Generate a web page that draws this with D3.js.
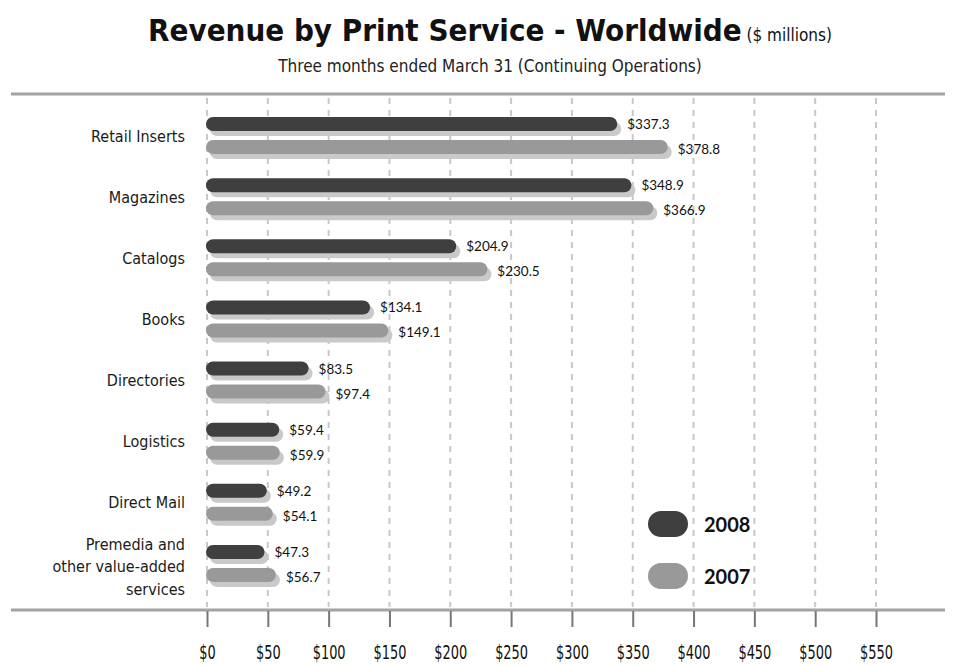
<!DOCTYPE html>
<html>
<head>
<meta charset="utf-8">
<title>Revenue by Print Service - Worldwide</title>
<script src="https://cdn.jsdelivr.net/npm/d3@7"></script>
<style>
  * { margin: 0; padding: 0; }
  body { background: #fff; width: 956px; height: 666px; overflow: hidden; }
  svg text { font-family: "Liberation Sans Narrow", "DejaVu Sans Condensed", "Noto Sans", sans-serif; }
  .num { font-family: Lato, "Open Sans", sans-serif; }
</style>
</head>
<body>
<div id="chart"></div>
<script>
// data
var categories = ["Retail Inserts", "Magazines", "Catalogs", "Books", "Directories",
                  "Logistics", "Direct Mail", "Premedia and\nother value-added\nservices"];
var years = ["2008", "2007"];
var rev2008 = [337.3, 348.9, 204.9, 134.1, 83.5, 59.4, 49.2, 47.3];
var rev2007 = [378.8, 366.9, 230.5, 149.1, 97.4, 59.9, 54.1, 56.7];
var tickValues = [0, 50, 100, 150, 200, 250, 300, 350, 400, 450, 500, 550];

var width = 956, height = 666;
var colors = { "2008": "#3f3f3f", "2007": "#999999" };
var shadow = "#c9c9c9";

var svg = d3.select("#chart").append("svg")
    .attr("width", width)
    .attr("height", height);

// scales
var x = d3.scaleLinear().domain([0, 550]).range([207, 876]);
var y = d3.scaleBand().domain(categories).range([105, 594]);
var sub = d3.scalePoint().domain(years).range([-11.5, 11.5]);

// title
var title = svg.append("text")
    .attr("x", 490)
    .attr("y", 41)
    .attr("text-anchor", "middle")
    .style("fill", "#111");
title.append("tspan")
    .style("font-size", "31px")
    .style("font-weight", "bold")
    .text("Revenue by Print Service - Worldwide");
title.append("tspan")
    .style("font-size", "17px")
    .text(" ($ millions)");

svg.append("text")
    .attr("x", 490)
    .attr("y", 72)
    .attr("text-anchor", "middle")
    .style("font-size", "17px")
    .style("fill", "#222")
    .text("Three months ended March 31 (Continuing Operations)");

// gridlines
svg.append("g").selectAll("line")
    .data(tickValues)
    .enter().append("line")
    .attr("x1", function(d) { return x(d); })
    .attr("x2", function(d) { return x(d); })
    .attr("y1", 98)
    .attr("y2", 607)
    .style("stroke", "#c8c8c8")
    .style("stroke-width", 2)
    .style("stroke-dasharray", "6,6");

// top and bottom rules
[94, 610].forEach(function(yy) {
    svg.append("line")
        .attr("x1", 11).attr("x2", 945)
        .attr("y1", yy).attr("y2", yy)
        .style("stroke", "#a3a3a3")
        .style("stroke-width", 3);
});

// x axis
var xAxis = d3.axisBottom(x)
    .tickValues(tickValues)
    .tickSize(16)
    .tickPadding(18)
    .tickFormat(function(d) { return "$" + d; });

var axisG = svg.append("g")
    .attr("transform", "translate(0,611)")
    .call(xAxis);
axisG.select(".domain").remove();
axisG.selectAll(".tick line").style("stroke", "#777").style("stroke-width", 2);
axisG.selectAll(".tick text")
    .style("font-family", '"Liberation Sans Narrow", "DejaVu Sans Condensed", sans-serif')
    .style("font-size", "20px")
    .style("fill", "#111")
    .attr("transform", "scale(0.72,1)");

// category labels
var catG = svg.append("g");
categories.forEach(function(c) {
    var lines = c.split("\n");
    var cy = y(c) + y.bandwidth() / 2 + (lines.length > 1 ? 3 : 0);
    var t = catG.append("text")
        .attr("x", 185)
        .attr("text-anchor", "end")
        .style("font-size", "16px")
        .style("fill", "#1a1a1a");
    lines.forEach(function(l, i) {
        t.append("tspan")
            .attr("x", 185)
            .attr("y", cy + 6 + (i - (lines.length - 1) / 2) * 22.5)
            .text(l);
    });
});

// bars
var rows = categories.map(function(c, i) {
    return [
        { cat: c, year: "2008", value: rev2008[i] },
        { cat: c, year: "2007", value: rev2007[i] }
    ];
});
var flat = [].concat.apply([], rows);
var barH = 14;

function cy(d) { return y(d.cat) + y.bandwidth() / 2 + sub(d.year); }

var barG = svg.append("g");
// shadows
barG.selectAll("rect.shadow")
    .data(flat)
    .enter().append("rect")
    .attr("class", "shadow")
    .attr("x", x(0) + 3)
    .attr("y", function(d) { return cy(d) - barH / 2 + 5; })
    .attr("width", function(d) { return x(d.value) - x(0) + 1; })
    .attr("height", barH)
    .attr("rx", barH / 2)
    .style("fill", shadow);

barG.selectAll("rect.bar")
    .data(flat)
    .enter().append("rect")
    .attr("class", "bar")
    .attr("x", x(0) - 1)
    .attr("y", function(d) { return cy(d) - barH / 2; })
    .attr("width", function(d) { return x(d.value) - x(0) + 1; })
    .attr("height", barH)
    .attr("rx", barH / 2)
    .style("fill", function(d) { return colors[d.year]; });

// value labels
barG.selectAll("text.val")
    .data(flat)
    .enter().append("text")
    .attr("class", "val num")
    .attr("x", function(d) { return x(d.value) + 10; })
    .attr("y", function(d) { return cy(d) + 5 + (d.year === "2007" ? 2 : 0); })
    .style("font-size", "13.5px")
    .style("fill", "#111")
    .text(function(d) { return "$" + d.value.toFixed(1); });

// legend
var legend = svg.append("g");
years.forEach(function(yr, i) {
    var ly = 524 + i * 52;
    legend.append("rect")
        .attr("x", 648).attr("y", ly - 13)
        .attr("width", 40).attr("height", 26)
        .attr("rx", 13)
        .style("fill", colors[yr]);
    legend.append("text")
        .attr("class", "num")
        .attr("x", 704).attr("y", ly + 8)
        .style("font-size", "20px")
        .style("font-weight", "bold")
        .style("fill", "#111")
        .text(yr);
});
</script>
</body>
</html>
